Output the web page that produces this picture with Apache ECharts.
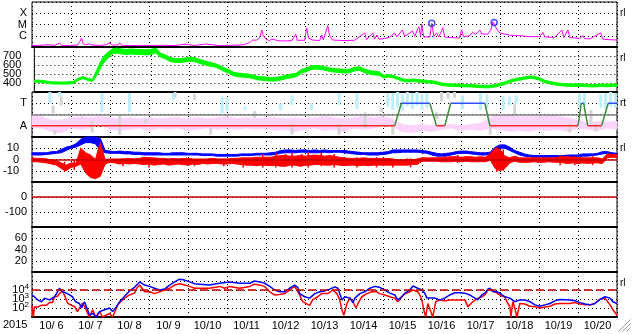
<!DOCTYPE html>
<html><head><meta charset="utf-8">
<script src="https://cdn.jsdelivr.net/npm/echarts@6/dist/echarts.min.js"></script>
<style>html,body{margin:0;padding:0;background:#fff}#c{width:633px;height:334px}</style>
</head><body><div id="c"></div>
<script>
// ---------- DATA (hours since 2015-10-06 00:00) ----------
const dayLabels = ['10/ 6','10/ 7','10/ 8','10/ 9','10/10','10/11','10/12','10/13','10/14','10/15','10/16','10/17','10/18','10/19','10/20'];
const yearLabel = '2015';
const STEP_FINE = 3;   // hours between samples of banded series
const STEP_PINK = 6;

// X-ray flux, [hour, log10(W/m2)]
const xrayPts = [[0,-6.87],[5,-6.85],[10,-6.8],[14,-6.86],[17,-6.65],[18,-6.86],[24,-6.86],[28,-6.82],[29.5,-6.5],[30.5,-6.2],[31.5,-6.7],[33,-6.8],[35,-6.72],[37,-6.82],[42,-6.86],[46,-6.78],[48,-6.62],[49,-6.82],[53,-6.82],[54,-6.64],[55,-6.85],[60,-6.87],[66,-6.86],[72,-6.87],[80,-6.85],[88,-6.87],[94,-6.75],[95,-6.86],[100,-6.87],[107,-6.73],[108,-6.86],[115,-6.87],[122,-6.85],[128,-6.83],[131,-6.78],[134,-6.6],[135.8,-6.38],[138,-6.4],[140,-6.2],[141.5,-5.5],[142.3,-6.0],[144,-6.3],[146,-6.43],[147.5,-6.3],[148.5,-6.45],[152,-6.45],[156,-6.46],[160,-6.43],[162.3,-5.85],[163.2,-6.4],[167.8,-6.4],[169,-5.3],[170.2,-6.2],[172.7,-6.38],[177,-6.43],[178.3,-5.93],[179.3,-6.38],[182,-5.1],[183.2,-6.0],[185,-6.38],[192,-6.43],[198.6,-6.4],[204.8,-5.75],[205.8,-6.35],[209.7,-5.75],[210.8,-6.3],[212.2,-5.93],[213.5,-6.3],[217,-6.25],[220,-6.15],[223.2,-5.75],[224.4,-6.1],[228,-5.48],[229.3,-6.05],[231,-5.9],[232,-6.05],[234.2,-5.57],[235.5,-6.05],[238,-5.21],[239.2,-6.0],[239.8,-4.95],[241,-6.1],[244.8,-6.12],[246,-4.9],[247.3,-6.05],[249,-5.75],[250.3,-6.12],[252.8,-5.3],[254,-6.12],[260,-6.18],[263,-6.2],[264.4,-5.48],[265.6,-6.1],[269.3,-6.0],[271.2,-5.7],[273,-5.9],[275.6,-5.5],[276.8,-5.85],[280.5,-5.85],[282.3,-5.5],[283.6,-4.77],[284.8,-4.9],[286,-5.4],[287.9,-5.75],[291,-5.85],[294,-5.95],[300.2,-6.0],[306.4,-6.08],[312.5,-6.08],[314.4,-5.7],[315.6,-6.1],[321.7,-6.15],[326,-5.48],[327.3,-6.15],[329.8,-5.48],[331,-6.15],[337,-6.25],[339,-6.0],[340,-6.25],[343.3,-6.28],[350,-5.75],[351.3,-6.3],[355.6,-6.35],[360,-6.38]];
const flareMarks = [[246,-4.88],[284.4,-4.83]];

// Solar wind speed band (km/s), every 3 h
const speedLo = [408,408,403,393,388,388,386,390,393,428,448,428,418,495,605,665,722,732,722,717,722,717,717,712,717,732,688,668,638,628,628,633,643,638,618,603,588,580,560,530,510,480,470,465,460,450,435,430,425,420,425,435,450,460,470,510,525,550,555,550,540,525,520,515,510,515,535,540,515,500,490,485,456,466,456,436,416,411,416,411,406,401,396,386,371,366,361,361,358,356,356,351,348,346,348,356,371,386,406,421,431,441,451,446,431,406,391,381,371,366,364,361,364,361,358,356,358,361,358,361,361];
const speedHi = [432,432,427,417,412,412,410,414,417,452,472,452,442,565,675,735,778,788,778,773,778,773,773,768,773,788,732,712,682,672,672,677,687,682,662,647,632,620,600,570,550,520,510,505,500,490,475,470,465,460,465,475,490,500,510,550,565,590,595,590,580,565,560,555,550,555,575,580,555,540,530,525,484,494,484,464,444,439,444,439,434,429,424,414,399,394,389,389,386,384,384,379,376,374,376,384,399,414,434,449,459,469,479,474,459,434,419,409,399,394,392,389,392,389,386,384,386,389,386,389,389];

// Sector polarity: [hour, +1 toward / -1 away]
const sectorPts = [[0,-1],[223.2,-1],[227.3,1],[244.8,1],[248.9,-1],[254,-1],[257.7,1],[278.7,1],[281.8,-1],[336,-1],[338,1],[339.5,1],[342,-1],[350.5,-1],[354.6,1],[360,1]];
// IMF angle scatter bands (axis units, T=+1, A=-1)
const pinkLo = [-1.1,-1.2,-1.5,-1.6,-1.2,-1.3,-1.2,-0.8,-1.3,-1.4,-1.3,-1.2,-1.4,-1.2,-1.3,-1.2,-1.4,-1.3,-1.2,-1.3,-1.2,-1.3,-1.2,-1.3,-1.2,-1.4,-1.3,-1.5,-1.3,-1.2,-1.4,-1.3,-1.5,-1.2,-1.3,-1.2,-1.0,-1.1,-1.5,-1.6,-1.4,-1.5,-1.3,-1.2,-1.4,-1.3,-1.4,-1.2,-1.3,-1.5,-1.4,-1.5,-1.3,-1.4,-1.3,-1.5,-1.2,-1.3,-1.4,-1.2,-1.3];
const pinkHi = [-0.1,-0.2,-0.5,-0.5,-0.3,-0.2,-0.3,-0.2,-0.3,-0.4,-0.3,-0.4,-0.3,-0.4,-0.3,-0.3,-0.4,-0.3,-0.4,-0.3,-0.2,-0.4,-0.3,-0.4,-0.3,-0.3,-0.4,-0.3,-0.4,-0.3,-0.2,-0.3,-0.4,-0.3,-0.2,-0.3,-0.2,-0.4,-0.9,-1.0,-0.9,-1.0,-0.9,-0.9,-1.0,-0.9,-0.8,-0.3,0.0,-0.1,-0.2,-0.2,-0.2,-0.1,-0.2,-0.3,-0.5,-0.8,-0.6,-0.7,-0.6];
const lightBlueStreaks = [[11,1.0,2.0],[17,1.6,2.0],[43,0.2,1.9],[60,0.2,1.9],[87,1.3,1.9],[117,0.1,1.6],[120,0.3,1.5],[131,0.4,0.7],[153,0.4,1.0],[160,0.85,1.7],[172,0.4,1.0],[189,0.85,1.9],[200,0.5,1.9],[219,0.7,1.9],[222,0.4,1.9],[225,0.6,2],[228,0.3,1.8],[231,0.7,2],[234,0.5,1.9],[237,0.8,2],[240,0.4,1.8],[243,0.6,1.9],[265,0.5,1.7],[276,0.4,1.9],[280,0.6,1.8],[290,0.4,1.6],[294,0.8,1.6],[298,0.9,1.7],[337,0.6,1.9],[340,0.8,1.9],[350,0.6,1.8],[353,0.5,1.9],[356,0.7,2],[359,0.6,1.9]];
const grayStreaks = [[13,0.1,0.8],[14,-1.8,-1.4],[18,0.8,1.6],[37,-1.6,-0.6],[54,-1.8,0.0],[70,-0.8,-0.4],[88,1.5,2],[100,1.3,1.8],[110,-1.8,-1.2],[137,-0.3,0.3],[160,-1.8,-0.8],[189,-1.8,-0.9],[205,-1.2,0.2],[215,0.2,0.6],[222,-1.8,-0.8],[249,-0.4,0.2],[252,1.2,2],[256,1.4,2],[260,1.5,2],[282,-1.8,-1.0],[297,0.0,0.9],[331,-1.6,-0.8],[344,-0.8,0.4],[347,-1.5,-0.8]];

// IMF Bt (blue) and Bz (red) bands, nT, every 3 h
const btLo = [4,4,4,4.5,5,5.5,6,8,10,11,13,15,15,14,8,6,5.5,5.5,5.5,5,5,4.5,4.5,4,4,4,4,4,4,4,4,4,4,4,4,3.5,3.5,3.5,3,3,3,3,3,3.5,3.5,3.5,4,4,4,4,4.5,5.5,6,6,6,6.5,6.5,6,6,6,6.5,6,6.5,6.5,6,5.5,5,4.5,4.5,4,4,4,4.5,5,6,6,6.5,6.5,6.5,6.5,6,5.5,4,3,3,3,4,5,5.5,5.5,5,4.5,4,4,4.5,8,10,10,8,6,4,3,2.5,2,2,2,2,2,2,2,2,2.5,2.5,3,3,3.5,4,5,5.5,4,4];
const btHi = [6,6,6,6,7,7,9,11,12,14,18,20,20,20,19,8,7.5,7,7.5,7,7,6.5,6.5,6,6,6,6,5.5,5.5,6,6,6,5.5,5.5,5.5,5,5,5,4.5,4.5,4.5,4.5,4.5,5,5,5,5.5,5.5,5.5,6,6.5,8,8.5,8.5,8,8.5,8.5,8,8.5,8,8.5,8,8,8,8,7.5,7,6.5,6,6,6,6,6.5,7,8.5,8.5,8.5,8.5,8.5,8.5,8,7.5,6.5,5.5,5,5.5,6,7,7.5,7.5,7,6.5,6,6,6.5,11,13,13,11,8,6.5,5,4,3.5,3.5,3.5,3.5,3.5,3.5,3.5,4,4,4,5,5,5,5.5,7,7,6,5.5];
const bzLo = [-2,-2,-2.5,-3,-4,-5,-8,-10,-7,-6,-4,-12,-16,-17,-15,-4,-2.5,-3,-4,-3.5,-4,-3.5,-4,-4.5,-4,-5,-4.5,-4,-5,-4.5,-4,-4.5,-5,-4,-4.5,-3.5,-4,-3.5,-3.5,-4,-4,-3.5,-4,-4.5,-5,-5,-5.5,-5,-5,-5.5,-5,-6,-6,-5,-5,-6,-5,-5,-4.5,-4.5,-5,-5,-4.5,-5,-5.5,-5,-5,-5.5,-5,-5.5,-5,-5,-5,-5,-5,-5,-5,-5,-4.5,-4.5,-1.5,-1.5,-1.5,-1.5,-2,-2,-2,-1.5,-2,-1.5,-2,-2,-2,-2,-0.5,-8,-10,-8,-3,-1.5,-2.5,-2.5,-2.5,-2,-2.5,-2.5,-2,-2.5,-2.5,-3,-3.5,-3,-3.5,-3,-3.5,-3,-3,-3.5,1.5,2,1.5];
const bzHi = [1.5,1,1,0.5,-0.5,-1,-3,-5,-3,-3.5,10,6,4,0,15,0,0.5,0.5,0.5,0.5,1,0.5,1,2,1.5,1.5,1,1,0.5,1,0.5,1,1,0.5,0.5,0.5,0.5,1,0.5,0.5,0.5,1,1,1.5,1.5,1.5,2,2,2,2,3,3.5,3.5,3,3,3.5,3,3.5,4,3.5,3,3.5,3,2,1.5,1,1,1,1.5,1,1,1,1,1,0.5,-0.5,-0.5,0.5,-0.5,0.5,1.5,1.5,1.5,1.5,2,2,2.5,2.5,2,2.5,2.5,2,2.5,2,5,10,9,3,1.5,3,1.5,1.5,1.5,1.5,1.5,1.5,1.5,1.5,2,2.5,2.5,2,2,1.5,1.5,1.5,1.5,0.5,5,4.5,4.5];
// occasional Bz excursions beyond the core band: [hour, low, high]
const bzSpikes = [[20,-11,-2],[26,-9,0],[40,-9,0],[56,-6,1],[72,-7,0],[100,-6,0],[118,-6,1],[130,-7,0],[142,-7,5],[150,-7,6],[156,-6,5],[160,-7,6],[166,-6,5],[170,-7,7],[178,-6,6],[186,-7,5],[200,-7,2],[212,-7,2],[222,-7,1],[233,-7,1],[262,-3,4],[286,-11,11],[290,-10,9],[325,-5,4],[334,-5,3],[345,-5,3]];

// Electron flux, [hour, log10 flux]
const eBlue = [[0,3.45],[1.5,3.25],[3.4,2.9],[5.9,2.7],[7.7,3.1],[10.8,2.9],[13.9,3.25],[15.7,3.8],[16.9,4.2],[18.8,3.8],[21.2,3.65],[23.1,3.45],[24.9,3.25],[26.8,2.7],[29.2,2.5],[30.5,2.0],[32.3,2.7],[34.2,1.8],[35.4,1.2],[37.3,1.4],[39.7,1.0],[41.6,1.6],[44.7,1.8],[47.7,2.0],[49.6,1.6],[52,2.15],[53.9,2.7],[57,3.3],[60,3.9],[63.1,4.3],[66.2,4.9],[69.3,4.55],[72.4,4.4],[75.4,4.2],[78.5,4.0],[81.6,4.1],[84.7,4.55],[87.8,4.9],[90.8,5.2],[93.9,5.1],[97,4.9],[100.1,4.7],[103.2,4.65],[109.3,4.55],[115.5,4.75],[121.6,4.9],[127.8,4.75],[134,4.75],[137,5.0],[140.1,4.9],[143.2,4.75],[146.3,4.4],[149.3,4.0],[152.4,3.8],[155.5,3.8],[158.6,4.2],[161.6,4.55],[163.5,4.3],[164.7,3.6],[167.8,3.25],[170.9,3.1],[174,3.6],[177.1,3.8],[180.2,3.9],[183.3,4.1],[186.4,4.35],[188.2,4.2],[189.4,3.6],[190.7,2.9],[192.5,3.25],[195.6,3.1],[197.5,2.6],[198.7,3.1],[201.8,3.6],[204.8,3.8],[207.9,4.2],[211,4.4],[214,4.3],[217.1,4.0],[220.2,3.65],[223.2,3.45],[225.1,2.9],[227.6,3.25],[229.4,3.65],[232.5,4.0],[234.4,4.45],[237.4,4.2],[239.9,4.0],[241.7,3.65],[243,3.1],[244.8,3.1],[247.9,3.1],[251,2.9],[254,3.1],[257.1,3.45],[260.2,3.7],[263.3,3.7],[266.4,3.65],[269.4,3.45],[272.5,3.1],[274.4,2.9],[276.8,3.45],[278.7,3.65],[280.5,4.1],[281.8,4.2],[283.6,3.8],[286.1,3.8],[287.9,3.65],[291,3.25],[294.1,3.1],[297.1,2.7],[300.2,2.9],[303.3,2.9],[306.4,2.7],[309.5,2.35],[312.5,2.2],[315.6,2.35],[318.7,2.5],[321.8,2.8],[324.9,2.95],[331,2.9],[334.1,2.8],[337.2,2.6],[340.3,2.45],[343.4,2.35],[346.4,2.5],[349.5,2.95],[352.6,3.25],[355.7,3.1],[357.5,2.7],[360,2.5]];
const eRed = [[0,2.3],[0.8,1.0],[1.5,2.1],[3.4,2.1],[5.9,2.3],[8.9,2.3],[10.8,2.6],[12.6,2.6],[13.9,3.25],[15.7,3.3],[16.9,3.6],[18.8,3.9],[20,3.4],[21.9,2.55],[23.1,2.7],[24.3,2.3],[26.2,2.15],[28,1.6],[29.2,2.0],[31.1,2.55],[32.9,2.0],[34.2,1.4],[35.4,1.0],[37.3,1.8],[39.1,1.0],[41.6,1.6],[43.4,1.0],[47.7,1.4],[49.6,1.0],[52.7,2.3],[53.9,2.6],[57,3.1],[60,3.45],[63.1,3.65],[64.4,4.2],[66.2,4.55],[69.3,3.8],[72.4,3.8],[75.4,3.6],[78.5,3.8],[81.6,4.0],[84.7,4.2],[87.8,4.55],[90.8,4.7],[93.9,4.55],[97,4.4],[100.1,4.2],[103.2,4.2],[109.3,4.2],[115.5,4.4],[118.6,4.2],[121.6,4.4],[127.8,4.2],[134,4.4],[137,4.65],[140.1,4.55],[143.2,4.4],[146.3,3.8],[149.3,3.45],[152.4,3.5],[155.5,3.6],[158.6,4.0],[161.6,4.4],[164.7,3.45],[166.6,2.7],[167.8,2.5],[170.9,2.3],[172.7,2.9],[175.8,3.25],[178.3,3.6],[182,3.6],[185.1,4.0],[187.6,3.6],[189.4,2.9],[190.7,1.8],[191.9,1.2],[193.8,2.5],[195.6,3.1],[197.5,2.7],[199.3,2.0],[201.2,2.7],[203,3.25],[206,3.6],[209.1,3.8],[212.2,3.8],[214,3.6],[217.1,3.45],[220.2,3.25],[223.2,3.1],[225.1,2.7],[227.6,3.25],[229.4,3.55],[232.5,3.8],[234.4,4.0],[237.4,3.8],[238.7,3.45],[239.9,2.9],[241.1,1.8],[242.3,1.0],[243.6,2.5],[244.8,2.7],[246.6,1.0],[248.5,2.7],[251,2.9],[254,2.8],[257.1,2.9],[260.2,2.9],[266.4,2.9],[268.2,2.15],[269.4,2.0],[271.3,2.7],[274.4,3.1],[276.8,3.25],[278.7,3.45],[280.5,4.0],[281.8,4.1],[284.8,3.8],[287.9,3.45],[291,3.2],[292.8,2.5],[294.1,2.15],[294.7,1.0],[295.9,2.7],[297.1,2.0],[298.4,1.0],[300.2,2.5],[303.3,2.45],[306.4,2.2],[309.5,2.15],[312.5,2.0],[315.6,2.1],[318.7,2.2],[321.8,2.45],[324.9,2.5],[331,2.5],[334.1,2.6],[337.2,2.45],[340.3,2.35],[343.4,2.35],[346.4,2.5],[349.5,2.95],[352.6,3.1],[355.7,2.35],[357.5,1.8],[360,1.2]];

// Axis label maps
const xrayClassLabels = {'-6':'C','-5':'M','-4':'X'};
const sectorLabels = {'1':'T','-1':'A'};
const electronLabelExps = [2,3,4];
const sideLabels = ['rl','rl','rt','rl','','','rl'];

// ---------- CHART ----------
const FONT = '"Liberation Sans", Arial, sans-serif';
const N = 7, TOP0 = 2, PH = 45;

function bandTriples(lo, hi, step){ return lo.map((v,i)=>[i*step, v, hi[i]]); }
// filled band between lo and hi, drawn once as a polygon through the axis scales
function polyRender(triples, color){
  return function(params, api){
    if (params.dataIndex !== 0) return;
    const pts = [];
    for (let i = 0; i < triples.length; i++) pts.push(api.coord([triples[i][0], triples[i][1]]));
    for (let i = triples.length-1; i >= 0; i--) pts.push(api.coord([triples[i][0], triples[i][2]]));
    return {type:'polygon', shape:{points:pts}, style:{fill:color, stroke:color, lineWidth:1}};
  };
}
function rangeRender(color, w){
  return function(params, api){
    const a = api.coord([api.value(0), api.value(1)]);
    const b = api.coord([api.value(0), api.value(2)]);
    return {type:'rect', shape:{x:a[0]-w/2, y:b[1], width:w, height:Math.max(a[1]-b[1],1)}, style:{fill:color}};
  };
}
function sectorSegments(kind){
  const out = [];
  for (let i = 0; i < sectorPts.length-1; i++){
    const a = sectorPts[i], b = sectorPts[i+1];
    const k = a[1] === b[1] ? (a[1] > 0 ? 'T' : 'A') : 'X';
    if (k === kind){ out.push(a, b, null); }
  }
  return out;
}

const grids = [], xAxes = [], yAxes = [];
for (let i = 0; i < N; i++){
  grids.push({left:32, right:16, top:TOP0+PH*i, height:PH, show:true, borderColor:'#000', borderWidth:1});
  xAxes.push({type:'value', gridIndex:i, min:0, max:360, interval:24,
    axisLabel:{show:false}, axisTick:{show:false},
    axisLine:{show:true, onZero:false, lineStyle:{color:'#000', width:2}},
    splitLine:{show:true, lineStyle:{color:'#000', type:[1,3], width:1}}});
}
xAxes.push({type:'category', gridIndex:6, position:'bottom', data:dayLabels, boundaryGap:true,
  axisLine:{show:false}, axisTick:{show:false}, splitLine:{show:false},
  axisLabel:{interval:0, margin:3, fontSize:11, color:'#000', fontFamily:FONT}});

function yax(i, min, max, interval, fmt, margin, rich){
  return {type:'value', gridIndex:i, min, max, interval,
    axisLine:{show:false}, axisTick:{show:false},
    splitLine:{show:true, lineStyle:{color:'#000', type:[1,3], width:1}},
    axisLabel:{showMinLabel:false, showMaxLabel:false, margin, color:'#000', fontSize:11, fontFamily:FONT, formatter:fmt, rich}};
}
yAxes.push(yax(0,-7,-3,1, v => xrayClassLabels[String(Math.round(v))] || '', 5));
yAxes.push(yax(1,300,800,100, v => String(v), 13));
yAxes.push(yax(2,-2,2,1, v => sectorLabels[String(Math.round(v))] || '', 5));
yAxes.push(yax(3,-20,20,10, v => String(v), 13));
yAxes.push(yax(4,-200,100,100, v => String(v), 5));
yAxes.push(yax(5,0,80,20, v => String(v), 5));
yAxes.push(yax(6,1,6,1, v => electronLabelExps.indexOf(Math.round(v))>=0 ? '{b|10}{s|'+Math.round(v)+'}' : '', 3,
  {b:{fontSize:11, fontFamily:FONT, color:'#000'}, s:{fontSize:8, fontFamily:FONT, color:'#000', padding:[0,0,7,0]}}));

function mline(val, color, type, width){
  return {silent:true, symbol:'none', animation:false, label:{show:false},
    lineStyle:{color, type, width}, data:[{yAxis:val}]};
}
function polyBand(name, xi, triples, color, z, extra){
  return Object.assign({name, type:'custom', xAxisIndex:xi, yAxisIndex:xi, data:triples,
    renderItem:polyRender(triples, color), encode:{x:0, y:[1,2]}, z}, extra || {});
}
function streaks(name, xi, data, color, w, z, extra){
  return Object.assign({name, type:'custom', xAxisIndex:xi, yAxisIndex:xi, data,
    renderItem:rangeRender(color, w), encode:{x:0, y:[1,2]}, z}, extra || {});
}

const series = [
  {name:'xray', type:'line', xAxisIndex:0, yAxisIndex:0, data:xrayPts, showSymbol:false, symbol:'none',
    lineStyle:{color:'#ff00ff', width:1}, z:3},
  {name:'flares', type:'scatter', xAxisIndex:0, yAxisIndex:0, data:flareMarks, symbol:'circle', symbolSize:6,
    itemStyle:{color:'rgba(0,0,0,0)', borderColor:'#2020ff', borderWidth:1.5}, z:4},
  polyBand('speed', 1, bandTriples(speedLo, speedHi, STEP_FINE), '#00ff00', 3),
  polyBand('pink', 2, bandTriples(pinkLo, pinkHi, STEP_PINK), '#fbd3fb', 2),
  streaks('gray', 2, grayStreaks, '#d4d4d4', 3, 2),
  streaks('lightblue', 2, lightBlueStreaks, '#bdeefc', 3, 2, {markLine: mline(0, '#808080', 'solid', 1.5)}),
  {name:'sectorA', type:'line', xAxisIndex:2, yAxisIndex:2, data:sectorSegments('A'), symbol:'none', connectNulls:false,
    lineStyle:{color:'#ff2a2a', width:1.5}, z:5},
  {name:'sectorT', type:'line', xAxisIndex:2, yAxisIndex:2, data:sectorSegments('T'), symbol:'none', connectNulls:false,
    lineStyle:{color:'#3050ff', width:1.5}, z:5},
  {name:'sectorX', type:'line', xAxisIndex:2, yAxisIndex:2, data:sectorSegments('X'), symbol:'none', connectNulls:false,
    lineStyle:{color:'#3c8c3c', width:1.5}, z:5},
  polyBand('bt', 3, bandTriples(btLo, btHi, STEP_FINE), '#0000ff', 3),
  polyBand('bz', 3, bandTriples(bzLo, bzHi, STEP_FINE), '#ff0000', 4, {markLine: mline(0, '#c00000', 'solid', 1.5)}),
  streaks('bzSpikes', 3, bzSpikes, '#ff0000', 1.5, 4),
  {name:'dst', type:'line', xAxisIndex:4, yAxisIndex:4, data:[], symbol:'none',
    markLine: mline(0, '#c00000', 'solid', 1.5)},
  {name:'eRed', type:'line', xAxisIndex:6, yAxisIndex:6, data:eRed, symbol:'none',
    lineStyle:{color:'#ff0000', width:1.5}, z:3,
    markLine: mline(4, '#c00000', [8,4], 1.5)},
  {name:'eBlue', type:'line', xAxisIndex:6, yAxisIndex:6, data:eBlue, symbol:'none',
    lineStyle:{color:'#0000ff', width:1.5}, z:4}
];

const graphic = [
  {type:'text', left:3, top:319, style:{text:yearLabel, font:'11px '+FONT, fill:'#000'}}
];
sideLabels.forEach((t,i)=>{ if(t) graphic.push({type:'text', left:620, top:TOP0+PH*i+6, style:{text:t, font:'10px '+FONT, fill:'#000'}}); });
[12,8,4].forEach(s=>{
  graphic.push({type:'line', right:0, bottom:0, shape:{x1:s,y1:0,x2:0,y2:s}, style:{stroke:'#9a9a9a', lineWidth:1}});
});

const chart = echarts.init(document.getElementById('c'), null, {renderer:'canvas'});
chart.setOption({
  animation:false,
  backgroundColor:'#fff',
  textStyle:{fontFamily:FONT},
  grid:grids, xAxis:xAxes, yAxis:yAxes,
  series, graphic
});
</script></body></html>
